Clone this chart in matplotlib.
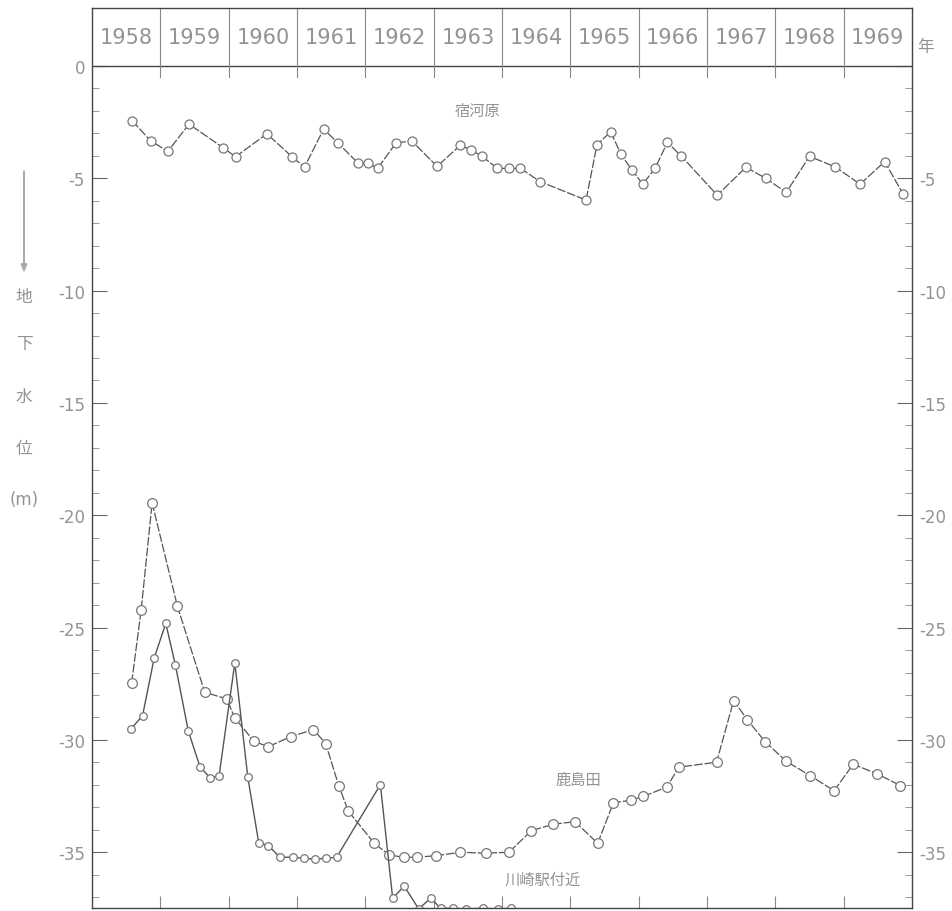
import matplotlib.pyplot as plt
from matplotlib.patches import FancyArrow

plt.rcParams['font.family'] = ['DejaVu Sans', 'Noto Sans CJK JP']

# 年
years = [1958, 1959, 1960, 1961, 1962, 1963, 1964, 1965, 1966, 1967, 1968, 1969]

# 宿河原
shuku_x = [1958.59, 1958.86, 1959.11, 1959.42, 1959.92, 1960.10, 1960.56, 1960.93,
           1961.11, 1961.39, 1961.60, 1961.89, 1962.04, 1962.18, 1962.45, 1962.68,
           1963.05, 1963.39, 1963.55, 1963.71, 1963.93, 1964.10, 1964.27, 1964.56,
           1965.23, 1965.39, 1965.59, 1965.74, 1965.90, 1966.06, 1966.24, 1966.42,
           1966.62, 1967.15, 1967.57, 1967.86, 1968.16, 1968.50, 1968.88, 1969.24,
           1969.60, 1969.87]
shuku_y = [-2.44, -3.34, -3.80, -2.59, -3.64, -4.04, -3.02, -4.05, -4.50, -2.81,
           -3.43, -4.31, -4.33, -4.56, -3.42, -3.34, -4.47, -3.53, -3.74, -4.02,
           -4.56, -4.56, -4.56, -5.15, -5.97, -3.51, -2.93, -3.92, -4.63, -5.26,
           -4.56, -3.40, -4.00, -5.75, -4.51, -5.00, -5.63, -4.02, -4.50, -5.26,
           -4.26, -5.70]

# 鹿島田
kashima_x = [1958.58, 1958.72, 1958.88, 1959.25, 1959.65, 1959.97, 1960.09, 1960.37,
             1960.58, 1960.91, 1961.24, 1961.42, 1961.61, 1961.75, 1962.13, 1962.35,
             1962.56, 1962.75, 1963.04, 1963.39, 1963.76, 1964.10, 1964.43, 1964.75,
             1965.07, 1965.40, 1965.63, 1965.89, 1966.07, 1966.41, 1966.59, 1967.14,
             1967.39, 1967.59, 1967.85, 1968.16, 1968.51, 1968.86, 1969.14, 1969.49,
             1969.83]
kashima_y = [-27.46, -24.20, -19.45, -24.05, -27.88, -28.17, -29.02, -30.06, -30.30,
             -29.85, -29.54, -30.16, -32.03, -33.16, -34.60, -35.12, -35.22, -35.22,
             -35.15, -35.00, -35.04, -35.00, -34.04, -33.75, -33.64, -34.60, -32.80,
             -32.68, -32.51, -32.10, -31.21, -30.99, -28.25, -29.10, -30.08, -30.95,
             -31.59, -32.26, -31.08, -31.51, -32.03]

# 川崎駅付近
kawasaki_x = [1958.57, 1958.74, 1958.91, 1959.08, 1959.22, 1959.41, 1959.58, 1959.73,
              1959.86, 1960.09, 1960.28, 1960.44, 1960.58, 1960.75, 1960.94, 1961.10,
              1961.26, 1961.42, 1961.58, 1962.22, 1962.40, 1962.57, 1962.78, 1962.96,
              1963.10, 1963.28, 1963.47, 1963.72, 1963.94, 1964.13]
kawasaki_y = [-29.51, -28.92, -26.35, -24.81, -26.66, -29.61, -31.19, -31.69, -31.59,
              -26.57, -31.66, -34.58, -34.70, -35.22, -35.22, -35.27, -35.30, -35.27,
              -35.22, -31.99, -37.04, -36.51, -37.52, -37.04, -37.49, -37.49, -37.52,
              -37.49, -37.52, -37.49]

y_ticks = [0, -5, -10, -15, -20, -25, -30, -35]
y_labels = ['0', '-5', '-10', '-15', '-20', '-25', '-30', '-35']

line_c = '#555555'
text_c = '#939393'

fig = plt.figure(figsize=(9.53, 9.12), dpi=100)
ax = fig.add_axes([92 / 953, 1 - 909 / 912, 820 / 953, 900 / 912])
ax.set_xlim(1958, 1970)
ax.set_ylim(-37.48, 2.58)

dash = (7, 1.5)
ax.plot(shuku_x, shuku_y, color=line_c, lw=0.9, dashes=dash, marker='o', ms=6.5,
        mfc='white', mec='#777777', mew=0.9)
ax.plot(kashima_x, kashima_y, color=line_c, lw=0.9, dashes=dash, marker='o', ms=7,
        mfc='white', mec='#777777', mew=0.9)
ax.plot(kawasaki_x, kawasaki_y, color=line_c, lw=1.0, marker='o', ms=5.5,
        mfc='white', mec='#777777', mew=0.9)

# 年の欄
ax.axhline(0, color='#444444', lw=1.0)
for i, yr in enumerate(years):
    if i > 0:
        ax.plot([yr, yr], [-0.5, 2.58], color='#888888', lw=0.8)
    ax.text(yr + 0.5, 1.29, str(yr), ha='center', va='center', fontsize=15,
            color=text_c)
ax.text(1.016, 1 - 38 / 900, '年', transform=ax.transAxes, ha='center',
        va='center', fontsize=12, color=text_c)

# 目盛
ax.set_xticks(range(1959, 1970))
ax.set_xticklabels([])
ax.tick_params(axis='x', direction='in', length=9, width=0.8, color='#888888')
ax.set_yticks(y_ticks)
ax.set_yticklabels(y_labels)
ax.set_yticks(range(0, -38, -1), minor=True)
ax.tick_params(axis='y', which='major', direction='in', length=11, width=0.8,
               color='#666666', labelsize=12, labelcolor=text_c, right=True,
               labelright=True, pad=5)
ax.tick_params(axis='y', which='minor', direction='in', length=5, width=0.7,
               color='#999999', right=True)
# 右側は 0 を出さない
for t in ax.yaxis.get_major_ticks():
    if t.get_loc() == 0:
        t.label2.set_visible(False)

for sp in ax.spines.values():
    sp.set_color('#444444')
    sp.set_linewidth(1.0)

# 地点名
ax.text(1963.65, -2.0, '宿河原', ha='center', va='center', fontsize=11, color=text_c)
ax.text(1965.12, -31.75, '鹿島田', ha='center', va='center', fontsize=11, color=text_c)
ax.text(1964.6, -36.2, '川崎駅付近', ha='center', va='center', fontsize=11, color=text_c)

# 縦軸ラベル
fig.patches.append(FancyArrow(
    24 / 953, 1 - 172 / 912, 0, -100 / 912, width=0.0005, head_width=0.006,
    head_length=0.008, length_includes_head=True, color='#aaaaaa',
    transform=fig.transFigure))
for ch, py in zip(['地', '下', '水', '位', '(m)'], [297, 344, 397, 449, 500]):
    fig.text(24 / 953, 1 - py / 912, ch, ha='center', va='center', fontsize=12,
             color=text_c)

fig.savefig('out.png', dpi=100, facecolor='white')
